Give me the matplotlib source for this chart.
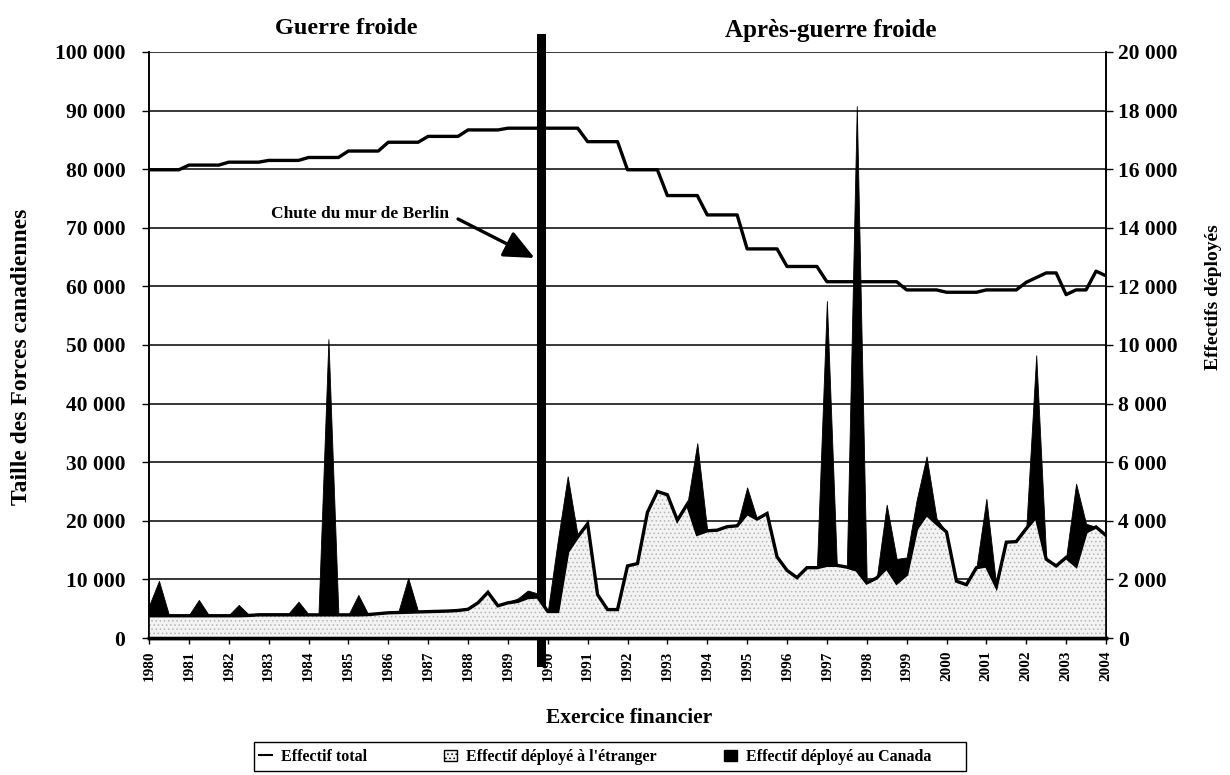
import numpy as np
import matplotlib
matplotlib.use("Agg")
import matplotlib.pyplot as plt
from matplotlib.lines import Line2D
from matplotlib.patches import Patch, Rectangle

plt.rcParams['font.family'] = ['Liberation Serif', 'DejaVu Serif']
plt.rcParams['font.weight'] = 'bold'
plt.rcParams['hatch.linewidth'] = 0.6

# ---- data (quarterly, fiscal years 1980.0 .. 2004.0) ----
year_labels = [str(y) for y in range(1980, 2005)]

total_force = [
    79900, 79900, 79900, 79900,   # 1980
    80700, 80700, 80700, 80700,   # 1981
    81200, 81200, 81200, 81200,   # 1982
    81500, 81500, 81500, 81500,   # 1983
    82000, 82000, 82000, 82000,   # 1984
    83100, 83100, 83100, 83100,   # 1985
    84600, 84600, 84600, 84600,   # 1986
    85600, 85600, 85600, 85600,   # 1987
    86700, 86700, 86700, 86700,   # 1988
    87000, 87000, 87000, 87000,   # 1989
    87000, 87000, 87000, 87000,   # 1990
    84700, 84700, 84700, 84700,   # 1991
    79900, 79900, 79900, 79900,   # 1992
    75500, 75500, 75500, 75500,   # 1993
    72200, 72200, 72200, 72200,   # 1994
    66400, 66400, 66400, 66400,   # 1995
    63400, 63400, 63400, 63400,   # 1996
    60800, 60800, 60800, 60800,   # 1997
    60800, 60800, 60800, 60800,   # 1998
    59400, 59400, 59400, 59400,   # 1999
    59000, 59000, 59000, 59000,   # 2000
    59400, 59400, 59400, 59400,   # 2001
    60700, 61500, 62300, 62300,   # 2002
    58600, 59400, 59400, 62600,   # 2003
    61800,                        # 2004
]

deployed_abroad = [
    760, 760, 760, 760,       # 1980
    760, 760, 760, 760,       # 1981
    760, 760, 770, 790,       # 1982
    790, 790, 790, 790,       # 1983
    790, 790, 790, 790,       # 1984
    790, 790, 800, 830,       # 1985
    860, 870, 880, 890,       # 1986
    900, 910, 920, 940,       # 1987
    980, 1200, 1560, 1100,    # 1988
    1200, 1250, 1380, 1400,   # 1989
    905, 905, 2950, 3450,     # 1990
    3900, 1480, 970, 970,     # 1991
    2460, 2540, 4290, 5000,   # 1992
    4890, 4020, 4570, 3540,   # 1993
    3660, 3680, 3800, 3830,   # 1994
    4250, 4060, 4250, 2770,   # 1995
    2310, 2060, 2400, 2400,   # 1996
    2480, 2480, 2420, 2320,   # 1997
    1880, 2050, 2400, 1880,   # 1998
    2170, 3735, 4220, 3910,   # 1999
    3620, 1940, 1820, 2400,   # 2000
    2460, 1760, 3270, 3290,   # 2001
    3735, 4140, 2690, 2460,   # 2002
    2750, 2460, 3620, 3790,   # 2003
    3500,                     # 2004
]

deployed_canada = [
    340, 1190, 30, 20,        # 1980
    20, 540, 20, 20,          # 1981
    20, 370, 30, 50,          # 1982
    50, 50, 50, 450,          # 1983
    20, 20, 9410, 20,         # 1984
    0, 680, 0, 0,             # 1985
    10, 10, 1170, 10,         # 1986
    20, 20, 20, 20,           # 1987
    20, 0, 0, 20,             # 1988
    30, 100, 240, 120,        # 1989
    0, 2400, 2570, 50,        # 1990
    0, 0, 0, 0,               # 1991
    0, 0, 0, 0,               # 1992
    0, 0, 0, 3110,            # 1993
    0, 0, 0, 0,               # 1994
    890, 0, 0, 0,             # 1995
    0, 0, 0, 0,               # 1996
    9020, 0, 0, 15830,        # 1997
    0, 0, 2150, 820,          # 1998
    580, 965, 1980, 170,      # 1999
    0, 0, 0, 0,               # 2000
    2290, 0, 0, 0,            # 2001
    0, 5510, 60, 0,           # 2002
    0, 2810, 280, 0,          # 2003
    0,                        # 2004
]

berlin_wall_time = 1989.84

# ---- figure ----
W, H = 1230, 775
fig = plt.figure(figsize=(W / 100, H / 100), dpi=100)
fig.patch.set_facecolor('white')
ax = fig.add_axes([149 / W, 1 - 638 / H, (1106 - 149) / W, (638 - 52) / H])
ax2 = ax.twinx()

t = 1980 + np.arange(len(total_force)) * 0.25
abroad = np.array(deployed_abroad, dtype=float)
canada = np.array(deployed_canada, dtype=float)

# grid (left axis)
for v in range(10000, 100001, 10000):
    ax.axhline(v, color='black', lw=1.1, zorder=0)

# areas on right axis
ax2.fill_between(t, 0, abroad, facecolor='#f3f3f3', edgecolor='#b5b5b5',
                 hatch='....', linewidth=0, zorder=1)
ax2.fill_between(t, abroad, abroad + canada, facecolor='black',
                 edgecolor='black', linewidth=0.6, zorder=2)
ax2.plot(t, abroad, color='black', lw=2.4, zorder=3, solid_joinstyle='miter')

# total force line on left axis
ax.plot(t, total_force, color='black', lw=2.4, zorder=5)

ax.set_xlim(1980, 2004)
ax.set_ylim(0, 100000)
ax2.set_ylim(0, 20000)

def fmt(v):
    return '{:,}'.format(int(v)).replace(',', ' ')

ax.set_yticks(range(0, 100001, 10000))
ax.set_yticklabels([fmt(v) for v in range(0, 100001, 10000)], fontsize=15.5, fontweight='bold')
ax2.set_yticks(range(0, 20001, 2000))
ax2.set_yticklabels([fmt(v) for v in range(0, 20001, 2000)], fontsize=15.5, fontweight='bold')
ax.set_xticks(range(1980, 2005))
ax.set_xticklabels(year_labels, rotation=90, fontsize=11, fontweight='bold')

ax.tick_params(axis='y', length=5, width=1, pad=12)
ax2.tick_params(axis='y', length=5, width=1, pad=4)
ax.tick_params(axis='x', length=4, width=1, pad=5)

for a in (ax, ax2):
    a.spines['top'].set_visible(False)
    a.spines['left'].set_linewidth(1.2)
    a.spines['right'].set_linewidth(1.2)
    a.spines['bottom'].set_linewidth(2.5)

# Berlin wall line
ax.axvline(berlin_wall_time, ymin=-0.041, ymax=1.024, color='black', lw=6.5,
           clip_on=False, zorder=10)

ax.text(1983.05, 72400, 'Chute du mur de Berlin', fontsize=12.5, fontweight='bold',
        va='center', ha='left', zorder=11)
ax.annotate('', xy=(1989.67, 64850), xytext=(1987.75, 71500),
            arrowprops=dict(arrowstyle='-|>,head_length=0.62,head_width=0.28',
                            color='black', lw=2.4,
                            mutation_scale=30, shrinkA=0, shrinkB=0),
            zorder=11)

# titles
fig.text(346 / W, 1 - 28 / H, 'Guerre froide', ha='center', va='center',
         fontsize=17.5, fontweight='bold')
fig.text(831 / W, 1 - 30 / H, 'Après-guerre froide', ha='center', va='center',
         fontsize=18, fontweight='bold')

fig.text(22 / W, 1 - 357 / H, 'Taille des Forces canadiennes', rotation=90,
         ha='center', va='center', fontsize=17, fontweight='bold')
fig.text(1213 / W, 1 - 297 / H, 'Effectifs déployés', rotation=90,
         ha='center', va='center', fontsize=14, fontweight='bold')
fig.text(629 / W, 1 - 718 / H, 'Exercice financier', ha='center', va='center',
         fontsize=15.5, fontweight='bold')

# legend: frame + three entries
legend_y = 1 - 757 / H
fig.add_artist(Rectangle((254 / W, 1 - 771 / H), (966 - 254) / W, 29 / H,
                         transform=fig.transFigure, facecolor='white',
                         edgecolor='black', lw=1.0, zorder=20))
entries = [
    (Line2D([0], [0], color='black', lw=1.5), 'Effectif total', 259),
    (Patch(facecolor='#f3f3f3', edgecolor='black', hatch='....', linewidth=1),
     "Effectif déployé à l'étranger", 444),
    (Patch(facecolor='black', edgecolor='black'), 'Effectif déployé au Canada', 724),
]
for handle, label, x0 in entries:
    lg = fig.legend([handle], [label], loc='center left',
                    bbox_to_anchor=(x0 / W, legend_y), frameon=False,
                    fontsize=11.5, handlelength=0.8, handletextpad=0.6,
                    borderpad=0, borderaxespad=0)
    lg.set_zorder(21)

fig.savefig('out.png', dpi=100, facecolor='white')
